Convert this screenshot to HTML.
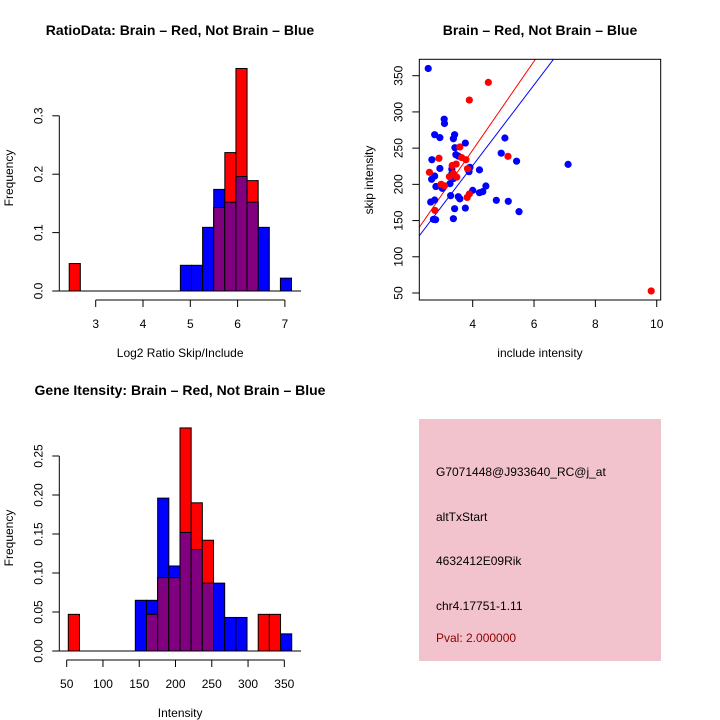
<!DOCTYPE html>
<html><head><meta charset="utf-8"><style>
html,body{margin:0;padding:0;background:#fff}
svg{display:block;font-family:"Liberation Sans",sans-serif}
</style></head><body>
<svg id="chart" width="720" height="720" viewBox="0 0 720 720" xmlns="http://www.w3.org/2000/svg">
<rect width="720" height="720" fill="#fff"/>
<text x="180" y="35" text-anchor="middle" font-size="14" font-weight="bold">RatioData: Brain – Red, Not Brain – Blue</text>
<text x="540" y="35" text-anchor="middle" font-size="14" font-weight="bold">Brain – Red, Not Brain – Blue</text>
<text x="180" y="395" text-anchor="middle" font-size="14" font-weight="bold">Gene Itensity: Brain – Red, Not Brain – Blue</text>
<g id="p1"></g>
<g id="p2"></g>
<g id="p3"></g>
<g>
<rect x="419" y="419" width="242" height="242" fill="#f3c3cd"/>
<g font-size="12" fill="#000">
<text x="436" y="476">G7071448@J933640_RC@j_at</text>
<text x="436" y="521">altTxStart</text>
<text x="436" y="565">4632412E09Rik</text>
<text x="436" y="610">chr4.17751-1.11</text>
<text x="436" y="642" fill="#8b0000">Pval: 2.000000</text>
</g></g>
</svg>
<script>
// Ratio histogram data
const ratioBinStart = 2.44, ratioBinWidth = 0.235;
const ratioBlue = [0,0,0,0,0,0,0,0,0,0,0.044,0.044,0.109,0.174,0.152,0.196,0.152,0.109,0,0.022];
const ratioRed  = [0.047,0,0,0,0,0,0,0,0,0,0,0,0,0.143,0.237,0.381,0.189,0,0,0];
const ratioXTicks = [3,4,5,6,7];
const ratioYTicks = ["0.0","0.1","0.2","0.3"];
// Intensity histogram data
const intBinStart = 52.2, intBinWidth = 15.4;
const intBlue = [0,0,0,0,0,0,0.065,0.065,0.196,0.109,0.152,0.130,0.087,0.087,0.043,0.043,0,0,0,0.022];
const intRed  = [0.047,0,0,0,0,0,0,0.047,0.094,0.094,0.286,0.190,0.142,0,0,0,0,0.047,0.047,0];
const intXTicks = [50,100,150,200,250,300,350];
const intYTicks = ["0.00","0.05","0.10","0.15","0.20","0.25"];
// Scatter data
const blueX = [2.55,2.76,2.93,3.07,3.08,3.41,3.37,3.42,3.76,2.67,3.45,3.53,2.93,2.76,2.66,3.32,3.32,3.37,3.26,2.80,3.01,3.91,3.88,4.22,4.93,5.05,5.43,7.11,4.43,4.33,4.22,4.0,3.28,3.53,3.58,2.76,2.63,3.41,3.76,4.77,5.16,5.51,2.72,2.79,3.37];
const blueY = [360,268.6,264.5,290,284,268.6,263,250.6,257,234,241,239,222,211.5,207,221,215,208,201,197,194.5,223.5,217.5,220,243,264,232,227.6,197.7,190,188.5,191.7,184.4,183,180,178.4,175.6,166.4,167.3,178,176.6,162.3,151.7,151.2,152.6];
const redX = [2.59,2.90,2.97,2.77,3.58,3.64,3.78,3.33,3.46,3.24,3.48,3.37,3.83,3.82,3.89,3.89,4.51,5.15,9.82,3.08];
const redY = [216.6,236,200,164,251.6,237,234,226,228,210.6,210,215,221.6,182,186.7,316.4,340.8,238.7,52.8,198];
const lineSlopes = [61.3,55.7];
const lineIntercepts = [2.2,3.1];
const lineColors = ["#ff0000","#0000ff"];
const scXTicks = [4,6,8,10];
const scYTicks = [50,100,150,200,250,300,350];

const NS="http://www.w3.org/2000/svg";
function mk(parent,tag,attrs){const e=document.createElementNS(NS,tag);for(const k in attrs)e.setAttribute(k,attrs[k]);parent.appendChild(e);return e;}

function hist(g,o){
  const X=v=>o.x0px+(v-o.x0)*o.kx, Y=v=>o.baseY-v*o.ky;
  for(let i=0;i<o.blue.length;i++){
    const l=X(o.binStart+i*o.binW), w=o.binW*o.kx;
    const b=o.blue[i], r=o.red[i];
    if(b>0){const e=mk(g,'rect',{x:l,y:Y(b),width:w,height:b*o.ky,fill:'#0000ff',stroke:'#000','stroke-width':1});
      
      }
    if(r>0){const e=mk(g,'rect',{x:l,y:Y(r),width:w,height:r*o.ky,fill:'#ff0000',stroke:'#000','stroke-width':1});
      
      }
    const m=Math.min(b,r);
    if(m>0){const e=mk(g,'rect',{x:l,y:Y(m),width:w,height:m*o.ky,fill:'#800080',stroke:'#000','stroke-width':1});
      
      }
  }
  mk(g,'line',{x1:o.plotL,x2:o.plotR,y1:o.baseY,y2:o.baseY,stroke:'#000','stroke-width':1});
  const yt=o.yTicks.map(Number);
  mk(g,'line',{x1:o.plotL,x2:o.plotL,y1:Y(yt[0]),y2:Y(yt[yt.length-1]),stroke:'#000'});
  o.yTicks.forEach(t=>{const y=Y(+t);mk(g,'line',{x1:o.plotL-7,x2:o.plotL,y1:y,y2:y,stroke:'#000'});
    const lx=o.plotL-17;
    const tx=mk(g,'text',{x:lx,y:y,'font-size':12,'text-anchor':'middle',transform:`rotate(-90 ${lx} ${y})`});tx.textContent=t;
    
    });
  const xa=o.axisY;
  mk(g,'line',{x1:X(o.xTicks[0]),x2:X(o.xTicks[o.xTicks.length-1]),y1:xa,y2:xa,stroke:'#000'});
  o.xTicks.forEach(t=>{const x=X(t);mk(g,'line',{x1:x,x2:x,y1:xa,y2:xa+7,stroke:'#000'});
    const tx=mk(g,'text',{x:x,y:xa+28,'font-size':12,'text-anchor':'middle'});tx.textContent=t;
    
    });
  const xl=mk(g,'text',{x:(o.plotL+o.plotR)/2,y:o.xLabelY,'font-size':12,'text-anchor':'middle'});xl.textContent=o.xLabel;
  
  
  const cy=(o.baseY+o.topY)/2;
  const yl=mk(g,'text',{x:13,y:cy,'font-size':12,'text-anchor':'middle',transform:`rotate(-90 13 ${cy})`});yl.textContent='Frequency';
  
  
}
hist(document.getElementById('p1'),{blue:ratioBlue,red:ratioRed,binStart:ratioBinStart,binW:ratioBinWidth,
  x0:3,x0px:95.7,kx:47.3,baseY:291,ky:584,plotL:59.3,plotR:301,axisY:300,topY:65,
  xTicks:ratioXTicks,yTicks:ratioYTicks,xLabel:'Log2 Ratio Skip/Include',xLabelY:357});
hist(document.getElementById('p3'),{blue:intBlue,red:intRed,binStart:intBinStart,binW:intBinWidth,
  x0:50,x0px:66.7,kx:0.7254,baseY:651,ky:780,plotL:59.3,plotR:301,axisY:660,topY:425,
  xTicks:intXTicks,yTicks:intYTicks,xLabel:'Intensity',xLabelY:717});

(function(){
  const g=document.getElementById('p2');
  const L=419.3,R=660.7,T=59.3,B=300;
  const X=v=>472.7+(v-4)*30.67, Y=v=>293-(v-50)*0.7243;
  mk(g,'defs',{}).innerHTML='<clipPath id="sc"><rect x="419.3" y="59.3" width="241.4" height="240.7"/></clipPath>';
  const cg=mk(g,'g',{'clip-path':'url(#sc)'});
  lineSlopes.forEach((s,i)=>{const x1=2,x2=11;
    const e=mk(cg,'line',{x1:X(x1),y1:Y(lineIntercepts[i]+s*x1),x2:X(x2),y2:Y(lineIntercepts[i]+s*x2),stroke:lineColors[i],'stroke-width':1});
    
    });
  blueX.forEach((v,i)=>{const c=mk(cg,'circle',{cx:X(v),cy:Y(blueY[i]),r:3.6,fill:'#0000ff'});
    
    });
  redX.forEach((v,i)=>{const c=mk(cg,'circle',{cx:X(v),cy:Y(redY[i]),r:3.6,fill:'#ff0000'});
    
    });
  mk(g,'rect',{x:L,y:T,width:R-L,height:B-T,fill:'none',stroke:'#000'});
  scXTicks.forEach(t=>{const x=X(t);mk(g,'line',{x1:x,x2:x,y1:B,y2:B+7,stroke:'#000'});
    const tx=mk(g,'text',{x:x,y:B+28,'font-size':12,'text-anchor':'middle'});tx.textContent=t;
    
    });
  scYTicks.forEach(t=>{const y=Y(t);mk(g,'line',{x1:L-7,x2:L,y1:y,y2:y,stroke:'#000'});
    const lx=L-17;
    const tx=mk(g,'text',{x:lx,y:y,'font-size':12,'text-anchor':'middle',transform:`rotate(-90 ${lx} ${y})`});tx.textContent=t;
    
    });
  const xl=mk(g,'text',{x:540,y:357,'font-size':12,'text-anchor':'middle'});xl.textContent='include intensity';
  
  
  const yl=mk(g,'text',{x:373,y:180,'font-size':12,'text-anchor':'middle',transform:'rotate(-90 373 180)'});yl.textContent='skip intensity';
  
  
})();
</script>
</body></html>
